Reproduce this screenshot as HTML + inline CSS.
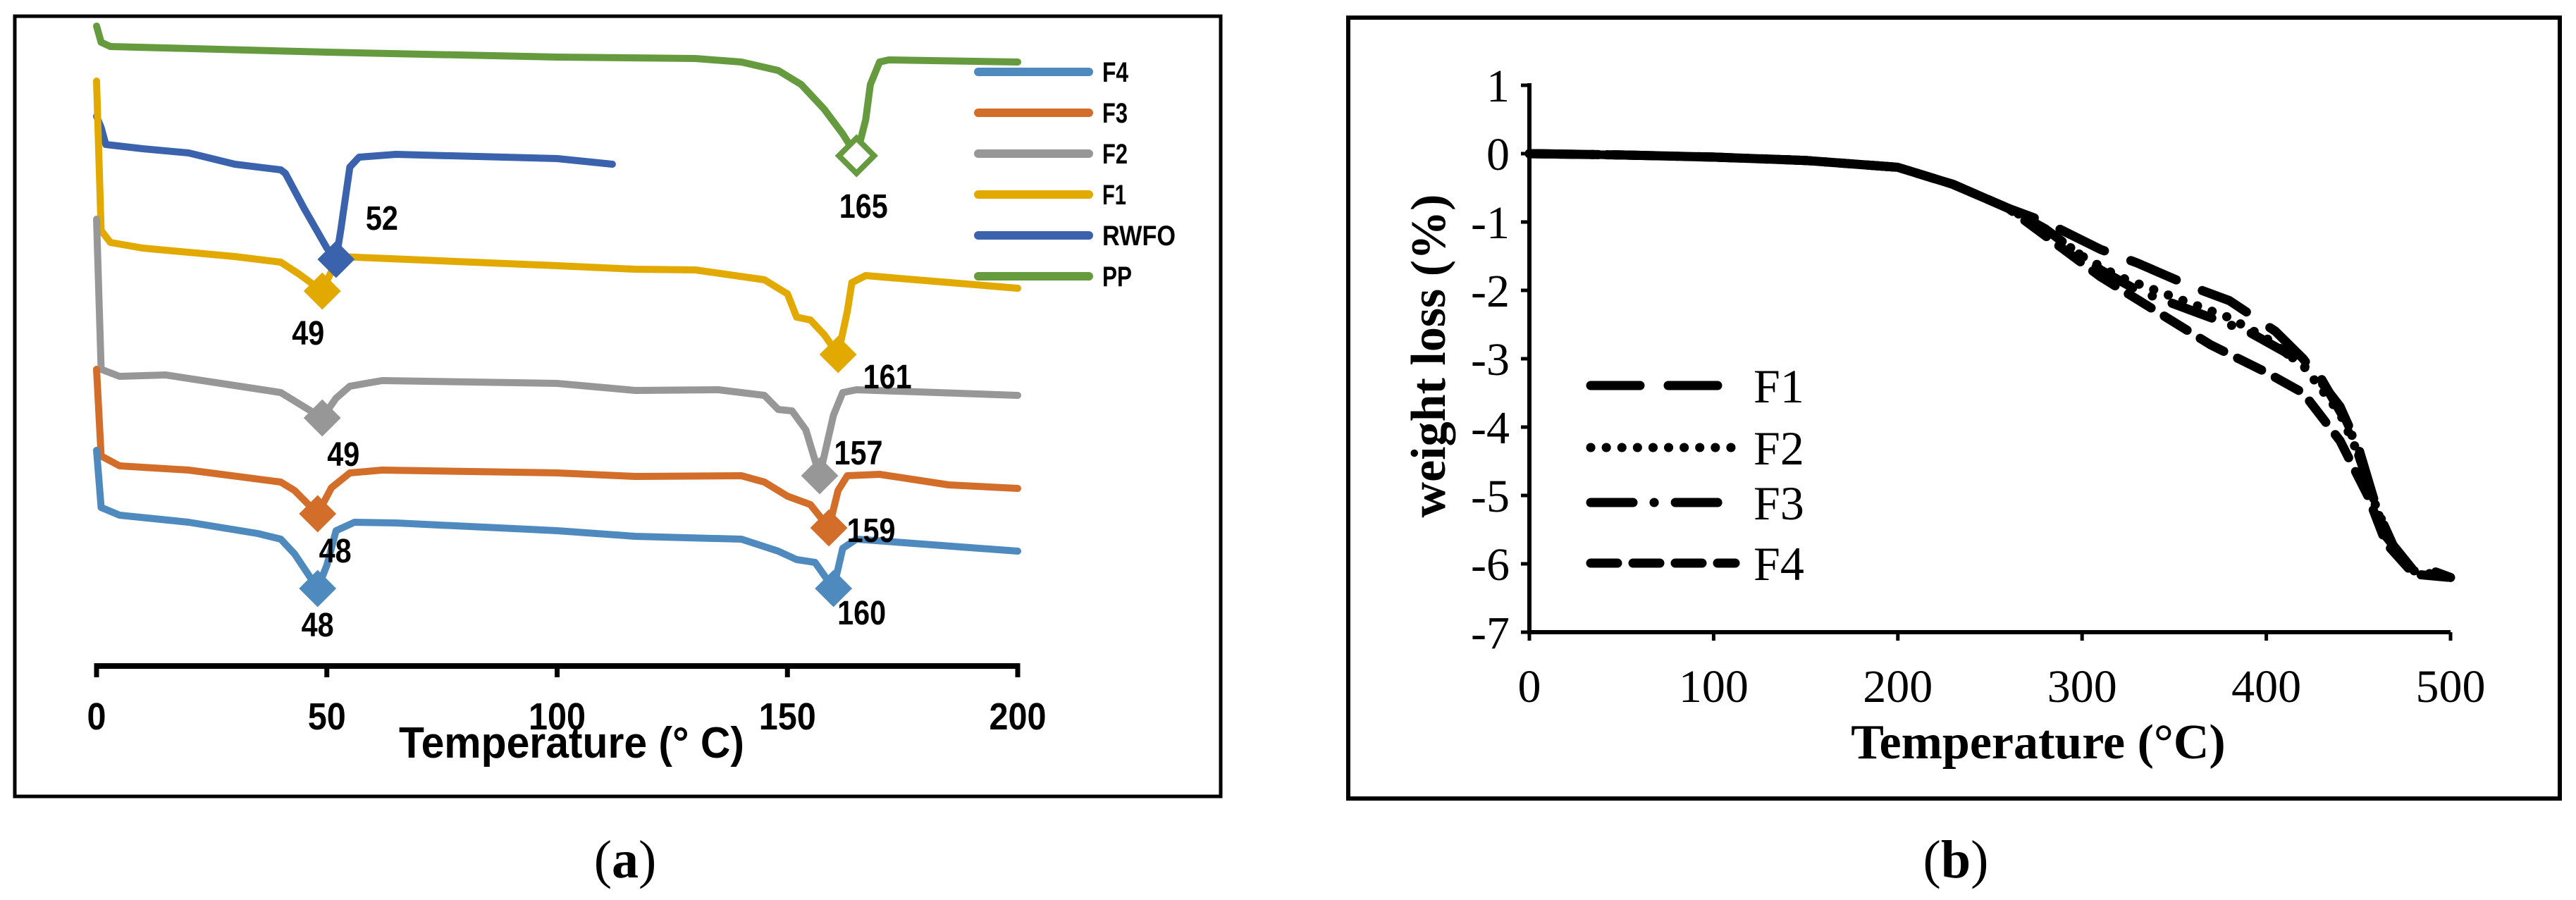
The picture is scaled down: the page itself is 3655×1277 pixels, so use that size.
<!DOCTYPE html>
<html><head><meta charset="utf-8"><style>
html,body{margin:0;padding:0;background:#fff;}
svg{display:block;}
.cal{font-family:"Liberation Sans Narrow","Liberation Sans",sans-serif;font-weight:bold;}
.tnr{font-family:"Liberation Serif",serif;}
</style></head><body>
<svg id="fig" width="3655" height="1277" viewBox="0 0 3655 1277" xmlns="http://www.w3.org/2000/svg">
<rect x="0" y="0" width="3655" height="1277" fill="#fff"/>
<g>
 <rect x="21" y="23" width="1711" height="1107" fill="none" stroke="#000" stroke-width="5"/>
 <g id="aplot"></g>
 <g id="aaxis"></g>
 <text x="566" y="1075" font-size="62" textLength="490" lengthAdjust="spacingAndGlyphs" class="cal">Temperature (° C)</text>
 <g id="alegend"></g>
 <text x="887" y="1245" font-size="76" text-anchor="middle" class="tnr">(<tspan font-weight="bold">a</tspan>)</text>
</g>
<g>
 <rect x="1913" y="25" width="1719" height="1108" fill="none" stroke="#000" stroke-width="6"/>
 <g id="bplot"></g>
 <g id="baxis"></g>
 <text x="2892" y="1076" font-size="70" font-weight="bold" text-anchor="middle" class="tnr">Temperature (°C)</text>
 <text transform="translate(2050,505) rotate(-90)" font-size="70" font-weight="bold" text-anchor="middle" class="tnr">weight loss (%)</text>
 <g id="blegend"></g>
 <text x="2775" y="1245" font-size="76" text-anchor="middle" class="tnr">(<tspan font-weight="bold">b</tspan>)</text>
</g>
</svg>
<script>
// ---------- Panel (a) DSC data: temperature (°C) and heat flow (a.u.) ----------
const dscNames = ["F4","F3","F2","F1","RWFO","PP"];
const dscColors = ["#4f8abe","#d26e2a","#979797","#e2aa00","#3a62ad","#659b3e"];
const ppT = [0,1,3,50,100,130,140,148,153,158,162,165,167,168,170,172,200];
const ppV = [90.8,88.5,87.9,87.1,86.4,86.2,85.7,84.5,82.5,79,75.5,72.4,77.5,82.5,85.7,86,85.7];
const rwfoT = [0,1,2,10,20,30,40,41,45,50,52,53,55,57,65,100,112];
const rwfoV = [78,76.4,74,73.4,72.8,71.2,70.4,69.9,65,59.3,57.7,61.8,70.8,72.2,72.6,72,71.2];
const f1T = [0,1,3,10,30,40,44,49,51,53,60,100,117,130,145,150,152,155,158,161,163,164,167,200];
const f1V = [83,61.8,60.1,59.3,58.1,57.3,55.6,53.2,56,58.1,57.9,56.8,56.3,56.2,54.8,52.8,49.5,49.1,47,44.2,50.3,54.4,55.4,53.6];
const f2T = [0,1,5,15,30,40,44,49,52,55,62,100,117,135,145,148,151,154,157,160,162,165,200];
const f2V = [63.4,42.1,41.1,41.3,39.8,38.8,37.2,35.2,38,39.7,40.5,40.1,39.1,39.2,38.4,36.4,36.2,33.5,27,35.6,38.8,39.2,38.4];
const f3T = [0,1,5,20,40,43,48,51,55,62,100,117,140,145,150,155,159,161,163,170,185,200];
const f3V = [42.1,29.8,28.4,27.8,26.1,24.9,21.6,25.3,27.4,27.8,27.4,26.9,27,26.1,24.1,22.9,19.6,24.9,27,27.2,25.7,25.2];
const f4T = [0,1,5,20,35,40,43,48,50,52,56,65,100,117,140,148,152,156,160,162,165,200];
const f4V = [30.6,22.5,21.4,20.4,18.8,18,15.9,11,14.3,19.2,20.4,20.3,19.2,18.4,18,16.3,15.1,14.7,11,16.7,18,16.3];
const peakT = [[48,160],[48,159],[49,157],[49,161],[52],[165]];
const peakLabels = [["48","160"],["48","159"],["49","157"],["49","161"],["52"],["165"]];
const labelOffsets = [[[0,52],[40,35]],[[25,53],[60,4]],[[30,52],[55,-32]],[[-20,60],[70,32]],[[65,-58]],[[10,72]]];
const aTicks = [0,50,100,150,200];

// ---------- Panel (b) TGA data ----------
const tgaNames = ["F1","F2","F3","F4"];
const tgaDash = ["70 40","0.1 22","60 30 0.1 30 ","38 22"];
const baseT = [0,50,100,150,200,230,260];
const baseV = [0,-0.02,-0.05,-0.1,-0.2,-0.45,-0.8];
const f1bT = [280,310,330,360,380,405,420,440,450,460,470,480,490,500];
const f1bV = [-1.0,-1.4,-1.6,-1.95,-2.15,-2.6,-3.0,-3.7,-4.3,-5.2,-5.8,-6.1,-6.1,-6.2];
const f2bT = [280,300,320,350,380,400,420,440,450,460,470,480,500];
const f2bV = [-1.1,-1.5,-1.8,-2.1,-2.4,-2.7,-3.1,-3.8,-4.4,-5.2,-5.8,-6.1,-6.2];
const f3bT = [280,310,330,360,390,410,430,445,455,465,480,500];
const f3bV = [-1.1,-1.7,-2.0,-2.3,-2.6,-2.9,-3.3,-4.0,-4.8,-5.6,-6.1,-6.2];
const f4bT = [280,310,340,370,400,420,440,455,465,480,500];
const f4bV = [-1.2,-1.8,-2.3,-2.8,-3.2,-3.5,-4.2,-5.0,-5.7,-6.15,-6.2];
const bxTicks = [0,100,200,300,400,500];
const byTicks = [1,0,-1,-2,-3,-4,-5,-6,-7];

const NS="http://www.w3.org/2000/svg";
function mk(tag,attrs,parent){const e=document.createElementNS(NS,tag);for(const k in attrs)e.setAttribute(k,attrs[k]);parent.appendChild(e);return e;}
const legendWidths={F4:37,F3:36,F2:36,F1:34,RWFO:104,PP:42};

const ax = t => 137 + t*(1444-137)/200;
const ay = v => 945 - v*10;
const interp=(T,V,t)=>{for(let i=1;i<T.length;i++){if(t<=T[i]){const f=(t-T[i-1])/(T[i]-T[i-1]);return V[i-1]+f*(V[i]-V[i-1]);}}return V[V.length-1];};
const aplot=document.getElementById('aplot');
const dscT=[f4T,f3T,f2T,f1T,rwfoT,ppT], dscV=[f4V,f3V,f2V,f1V,rwfoV,ppV];
for(let s=5;s>=0;s--){
  const d=dscT[s].map((t,i)=>(i?'L':'M')+ax(t).toFixed(1)+' '+ay(dscV[s][i]).toFixed(1)).join(' ');
  const p=mk('path',{d:d,fill:'none',stroke:dscColors[s],'stroke-width':10,'stroke-linejoin':'round','stroke-linecap':'round'},aplot);
  
  
}
for(let s=5;s>=0;s--){
  peakT[s].forEach((t,j)=>{
    const cx=ax(t), cy=ay(interp(dscT[s],dscV[s],t));
    const pts=`${cx},${cy-25} ${cx+25},${cy} ${cx},${cy+25} ${cx-25},${cy}`;
    const hollow = dscNames[s]==="PP";
    const m=mk('polygon',{points:pts,fill:hollow?'#fff':dscColors[s],stroke:dscColors[s],'stroke-width':hollow?8:2},aplot);
    
    
    const o=labelOffsets[s][j];
    const lbl=peakLabels[s][j];
    const tx=mk('text',{x:cx+o[0]-lbl.length*11.5,y:cy+o[1]+16,'font-size':48,textLength:lbl.length*23,lengthAdjust:'spacingAndGlyphs','class':'cal'},aplot);
    tx.textContent=lbl;
    
    
  });
}
const aaxis=document.getElementById('aaxis');
const al=mk('line',{x1:ax(0)-3,y1:945,x2:ax(200)+3,y2:945,stroke:'#000','stroke-width':8},aaxis);


aTicks.forEach(t=>{
  const tk=mk('line',{x1:ax(t),y1:941,x2:ax(t),y2:961,stroke:'#000','stroke-width':7},aaxis);
  
  
  const s=String(t);
  const lb=mk('text',{x:ax(t)-s.length*13.5,y:1035,'font-size':54,textLength:s.length*27,lengthAdjust:'spacingAndGlyphs','class':'cal'},aaxis);
  lb.textContent=s;
  
  
});
const alegend=document.getElementById('alegend');
dscNames.forEach((n,i)=>{
  const y=102+i*58;
  const ln=mk('line',{x1:1388,y1:y,x2:1545,y2:y,stroke:dscColors[i],'stroke-width':12,'stroke-linecap':'round'},alegend);
  
  
  const tx=mk('text',{x:1564,y:y+14,'font-size':40,textLength:legendWidths[n],lengthAdjust:'spacingAndGlyphs','class':'cal'},alegend);
  tx.textContent=n;
  
  
});

const bx = t => 2170 + t*(3477-2170)/500;
const by = v => 121 + (1-v)*97;
const bplot=document.getElementById('bplot');
const tgaT=[f1bT,f2bT,f3bT,f4bT], tgaV=[f1bV,f2bV,f3bV,f4bV];
tgaNames.forEach((n,s)=>{
  const T=baseT.concat(tgaT[s]), V=baseV.concat(tgaV[s]);
  const d=T.map((t,i)=>(i?'L':'M')+bx(t).toFixed(1)+' '+by(V[i]).toFixed(1)).join(' ');
  const base=mk('path',{d:baseT.map((t,i)=>(i?'L':'M')+bx(t)+' '+by(baseV[i])).join(' '),fill:'none',stroke:'#000','stroke-width':12,'stroke-linecap':'round'},bplot);
  
  
  const p=mk('path',{d:d,fill:'none',stroke:'#000','stroke-width':13,'stroke-dasharray':tgaDash[s],'stroke-linecap':'round','stroke-linejoin':'round'},bplot);
  
  
});
const baxis=document.getElementById('baxis');
const yl=mk('line',{x1:2170,y1:by(1)-3,x2:2170,y2:by(-7)+3,stroke:'#000','stroke-width':6},baxis);


const xl=mk('line',{x1:2167,y1:by(-7),x2:bx(500),y2:by(-7),stroke:'#000','stroke-width':6},baxis);


byTicks.forEach(v=>{
  const tk=mk('line',{x1:2158,y1:by(v),x2:2170,y2:by(v),stroke:'#000','stroke-width':5},baxis);
  
  
  const lb=mk('text',{x:2142,y:by(v)+23,'font-size':66,'text-anchor':'end','class':'tnr'},baxis);
  lb.textContent=v;
  
  
});
bxTicks.forEach(t=>{
  const tk=mk('line',{x1:bx(t),y1:by(-7),x2:bx(t),y2:by(-7)+12,stroke:'#000','stroke-width':5},baxis);
  
  
  const lb=mk('text',{x:bx(t),y:996,'font-size':66,'text-anchor':'middle','class':'tnr'},baxis);
  lb.textContent=t;
  
  
});
const blegend=document.getElementById('blegend');
tgaNames.forEach((n,i)=>{
  const y=[547,635,713,799][i];
  const ln=mk('line',{x1:2257,y1:y,x2:2462,y2:y,stroke:'#000','stroke-width':13,'stroke-dasharray':tgaDash[i],'stroke-linecap':'round'},blegend);
  
  
  const tx=mk('text',{x:2488,y:y+24,'font-size':68,'class':'tnr'},blegend);
  tx.textContent=n;
  
  
});
</script>
</body></html>
